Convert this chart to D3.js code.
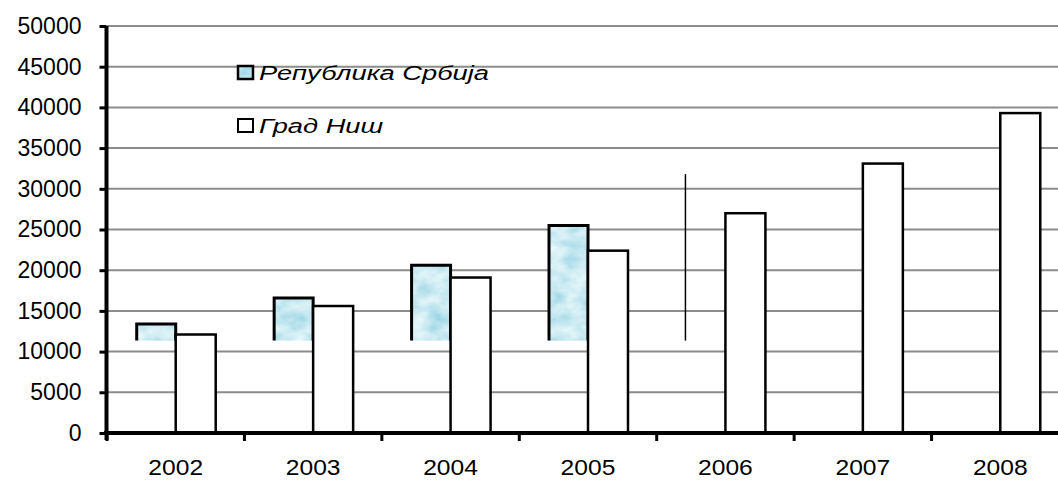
<!DOCTYPE html>
<html>
<head>
<meta charset="utf-8">
<script src="https://cdn.jsdelivr.net/npm/d3@7"></script>
<style>
    body { margin: 0; background: #fff; }
    #chart { width: 1058px; height: 480px; overflow: hidden; }
    text { font-family: "Liberation Sans", Arial, sans-serif; fill: #000; }
</style>
</head>
<body>
<div id="chart"></div>
<script>

// years on the x axis
const years = ["2002", "2003", "2004", "2005", "2006", "2007", "2008"];

// series
const srbijaValues = [13400, 16600, 20600, 25500, 31800, null, null];
const nisValues = [12100, 15600, 19100, 22400, 27000, 33100, 39300];

// the picture only shows the Srbija bars above this value
const srbijaCutoff = 11350;
// 2006 has only the left edge of its Srbija bar left in the picture
const texturedYears = ["2002", "2003", "2004", "2005"];

const seriesNames = ["Република Србија", "Град Ниш"];
const yTicks = [0, 5000, 10000, 15000, 20000, 25000, 30000, 35000, 40000, 45000, 50000];


class GroupedBars {

    constructor(_parentElement) {
        this.parentElement = _parentElement;
        this.margin = { top: 26, left: 107, bottom: 47 };
        this.width = 962;   // plot runs past the right edge, the picture is cropped there
        this.height = 407;
        this.initVis();
    }

    initVis() {
        let vis = this;

        vis.svg = d3.select("#" + vis.parentElement).append("svg")
            .attr("width", 1058)
            .attr("height", 480);

        // water texture for the Srbija bars
        let filter = vis.svg.append("defs").append("filter")
            .attr("id", "water")
            .attr("x", 0).attr("y", 0).attr("width", 1).attr("height", 1);
        filter.append("feTurbulence")
            .attr("type", "fractalNoise")
            .attr("baseFrequency", "0.05 0.07")
            .attr("numOctaves", 3)
            .attr("seed", 7)
            .attr("result", "noise");
        filter.append("feColorMatrix")
            .attr("in", "noise")
            .attr("type", "matrix")
            .attr("values", "0.7 0 0 0 0.24  0.4 0 0 0 0.62  0.25 0 0 0 0.76  0 0 0 0 1")
            .attr("result", "tint");
        filter.append("feComposite")
            .attr("in", "tint")
            .attr("in2", "SourceGraphic")
            .attr("operator", "in");

        vis.g = vis.svg.append("g")
            .attr("transform", "translate(" + vis.margin.left + "," + vis.margin.top + ")");

        vis.x0 = d3.scaleBand()
            .domain(years)
            .range([0, vis.width])
            .paddingInner(0.418)
            .paddingOuter(0.209);

        vis.x1 = d3.scaleBand()
            .domain(["srbija", "nis"])
            .range([0, vis.x0.bandwidth()]);

        vis.y = d3.scaleLinear()
            .domain([0, 50000])
            .range([vis.height, 0]);

        vis.drawGrid();
        vis.drawLegend();
        vis.drawBars();
        vis.drawAxes();
    }

    drawGrid() {
        let vis = this;

        vis.g.append("g")
            .selectAll("line")
            .data(yTicks.filter(d => d > 0))
            .enter().append("line")
            .attr("x1", 0)
            .attr("x2", vis.width)
            .attr("y1", d => vis.y(d))
            .attr("y2", d => vis.y(d))
            .style("stroke", "#8c8c8c")
            .style("stroke-width", 2);
    }

    drawBars() {
        let vis = this;

        let srbija = years.map((d, i) => ({ year: d, value: srbijaValues[i] }))
            .filter(d => d.value !== null);
        let nis = years.map((d, i) => ({ year: d, value: nisValues[i] }));

        let bw = vis.x1.bandwidth();
        let base = vis.y(srbijaCutoff);

        // textured Srbija bars, cut off at the bottom
        let textured = srbija.filter(d => texturedYears.includes(d.year));

        vis.g.append("g")
            .selectAll("rect")
            .data(textured)
            .enter().append("rect")
            .attr("x", d => vis.x0(d.year) + vis.x1("srbija"))
            .attr("y", d => vis.y(d.value))
            .attr("width", bw)
            .attr("height", d => base - vis.y(d.value))
            .attr("fill", "#a0d8e6")
            .attr("filter", "url(#water)");

        vis.g.append("g")
            .selectAll("path")
            .data(textured)
            .enter().append("path")
            .attr("d", d => {
                let x = vis.x0(d.year) + vis.x1("srbija");
                let top = vis.y(d.value);
                return "M" + (x + 1) + "," + base + "V" + top + "H" + (x + bw) + "V" + base;
            })
            .style("fill", "none")
            .style("stroke", "#000")
            .style("stroke-width", 3);

        // the untextured one: only its left edge shows
        vis.g.append("g")
            .selectAll("line")
            .data(srbija.filter(d => !texturedYears.includes(d.year)))
            .enter().append("line")
            .attr("x1", d => vis.x0(d.year) + vis.x1("srbija"))
            .attr("x2", d => vis.x0(d.year) + vis.x1("srbija"))
            .attr("y1", base)
            .attr("y2", d => vis.y(d.value))
            .style("stroke", "#000")
            .style("stroke-width", 1.5);

        // Grad Nis bars
        vis.g.append("g")
            .selectAll("rect")
            .data(nis)
            .enter().append("rect")
            .attr("x", d => vis.x0(d.year) + vis.x1("nis"))
            .attr("y", d => vis.y(d.value))
            .attr("width", bw)
            .attr("height", d => vis.height - vis.y(d.value))
            .style("fill", "#fff")
            .style("stroke", "#000")
            .style("stroke-width", 2.5);
    }

    drawAxes() {
        let vis = this;

        // y axis
        let yAxis = vis.g.append("g")
            .attr("transform", "translate(-0.5,0)")
            .call(d3.axisLeft(vis.y)
                .tickValues(yTicks)
                .tickFormat(d3.format("d"))
                .tickSize(7)
                .tickPadding(18)
                .tickSizeOuter(0));

        yAxis.select(".domain")
            .attr("d", "M0,0V" + (vis.height + 7))
            .style("stroke", "#000")
            .style("stroke-width", 4);
        yAxis.selectAll(".tick line")
            .style("stroke", "#000")
            .style("stroke-width", 3);
        yAxis.selectAll(".tick text")
            .style("font-size", "23px")
            .style("font-family", "'Liberation Sans', Arial, sans-serif")
            .attr("fill", "#000");

        // x axis line
        vis.g.append("line")
            .attr("x1", -3)
            .attr("x2", vis.width)
            .attr("y1", vis.height)
            .attr("y2", vis.height)
            .style("stroke", "#000")
            .style("stroke-width", 4);

        // ticks sit on the boundaries between years
        let step = vis.x0.step();
        let bounds = years.map(d => vis.x0(d) - step * vis.x0.paddingOuter());

        vis.g.append("g")
            .selectAll("line")
            .data(bounds)
            .enter().append("line")
            .attr("x1", d => d)
            .attr("x2", d => d)
            .attr("y1", vis.height)
            .attr("y2", vis.height + 8)
            .style("stroke", "#000")
            .style("stroke-width", 3);

        vis.g.append("g")
            .selectAll("text")
            .data(years)
            .enter().append("text")
            .attr("transform", d => "translate(" + (vis.x0(d) + vis.x0.bandwidth() / 2) + "," + (vis.height + 42) + ") scale(1.12,1)")
            .attr("text-anchor", "middle")
            .style("font-size", "22px")
            .text(d => d);
    }

    drawLegend() {
        let vis = this;

        let legend = vis.svg.append("g")
            .attr("transform", "translate(238,0)");

        let rows = legend.selectAll("g")
            .data(seriesNames)
            .enter().append("g")
            .attr("transform", (d, i) => "translate(0," + (i === 0 ? 80 : 133) + ")");

        rows.append("rect")
            .attr("x", 0)
            .attr("y", -14)
            .attr("width", 15)
            .attr("height", 13)
            .attr("fill", (d, i) => i === 0 ? "#a0d8e6" : "#fff")
            .attr("filter", (d, i) => i === 0 ? "url(#water)" : null);

        rows.append("rect")
            .attr("x", 0)
            .attr("y", -14)
            .attr("width", 15)
            .attr("height", 13)
            .style("fill", "none")
            .style("stroke", "#000")
            .style("stroke-width", (d, i) => i === 0 ? 2.5 : 2);

        rows.append("text")
            .attr("transform", "translate(21,0) scale(1.3,1)")
            .style("font-size", "21px")
            .style("font-style", "italic")
            .text(d => d);
    }
}

new GroupedBars("chart");

</script>
</body>
</html>
